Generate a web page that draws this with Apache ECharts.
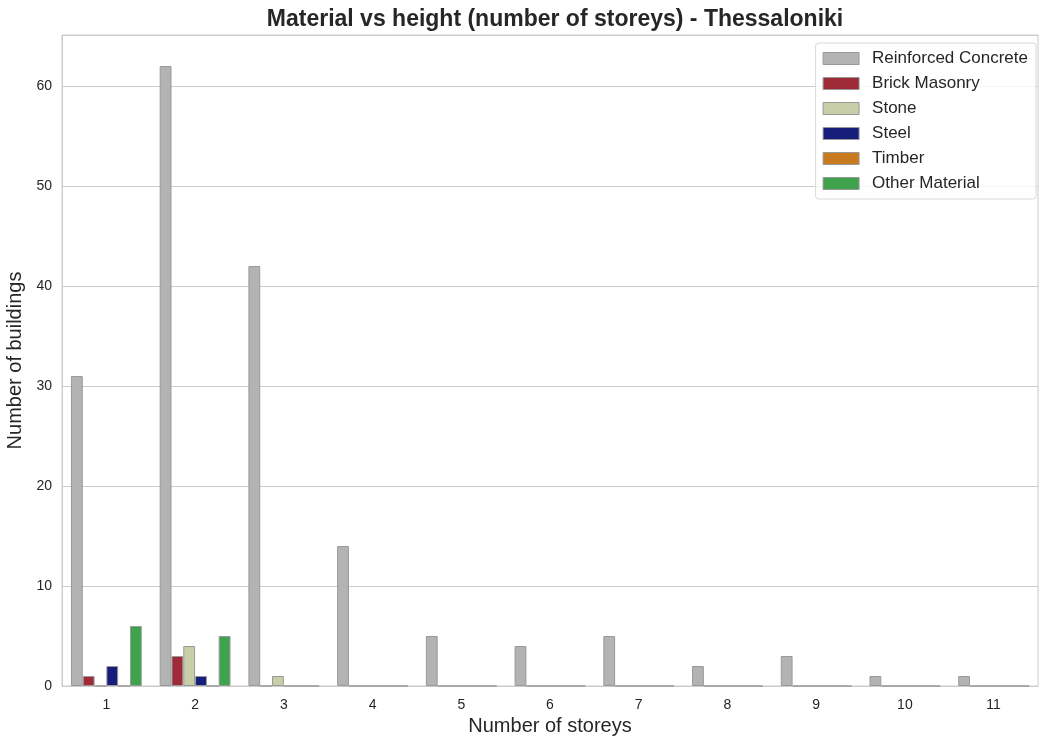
<!DOCTYPE html>
<html><head><meta charset="utf-8">
<script src="https://cdn.jsdelivr.net/npm/echarts@6/dist/echarts.min.js"></script>
<style>html,body{margin:0;padding:0;background:#fff}#c{width:1039px;height:738px}</style>
</head><body><div id="c"></div>
<script>
const categories = ['1','2','3','4','5','6','7','8','9','10','11'];
const reinforcedConcrete = [31, 62, 42, 14, 5, 4, 5, 2, 3, 1, 1];
const brickMasonry = [1, 3, 0, 0, 0, 0, 0, 0, 0, 0, 0];
const stone = [0, 4, 1, 0, 0, 0, 0, 0, 0, 0, 0];
const steel = [2, 1, 0, 0, 0, 0, 0, 0, 0, 0, 0];
const timber = [0, 0, 0, 0, 0, 0, 0, 0, 0, 0, 0];
const otherMaterial = [6, 5, 0, 0, 0, 0, 0, 0, 0, 0, 0];
const yTicks = [0, 10, 20, 30, 40, 50, 60];

const seriesDefs = [
  ['Reinforced Concrete', reinforcedConcrete, '#b3b3b3'],
  ['Brick Masonry', brickMasonry, '#9e2a37'],
  ['Stone', stone, '#c7cea8'],
  ['Steel', steel, '#161d7a'],
  ['Timber', timber, '#c87a1e'],
  ['Other Material', otherMaterial, '#3ea34c']
];
const font = 'Liberation Sans, Arial, sans-serif';
const chart = echarts.init(document.getElementById('c'), null, {renderer:'canvas'});
chart.setOption({
  animation:false,
  backgroundColor:'#fff',
  title:{text:'Material vs height (number of storeys) - Thessaloniki', left:550, textAlign:'center', top:3,
    textStyle:{fontFamily:font, fontSize:23, fontWeight:'bold', color:'#262626'}},
  legend:{orient:'vertical', right:3, top:43, itemWidth:36, itemHeight:12, itemGap:8, icon:'rect',
    padding:[7,8,7,7], borderColor:'#d9d9d9', borderWidth:1, borderRadius:3, backgroundColor:'rgba(255,255,255,0.8)',
    textStyle:{fontFamily:font, fontSize:17, color:'#262626', padding:[0,0,0,8]},
    itemStyle:{borderColor:'#999', borderWidth:1}},
  grid:{left:62, right:1, top:35, bottom:52, show:true, borderColor:'#cccccc', borderWidth:1, outerBoundsMode:'none', containLabel:false},
  xAxis:{type:'category', data:categories, name:'Number of storeys', nameLocation:'middle', nameGap:30,
    nameTextStyle:{fontFamily:font, fontSize:20, color:'#262626'},
    axisLine:{lineStyle:{color:'#cccccc'}}, axisTick:{show:false},
    axisLabel:{fontFamily:font, fontSize:14, color:'#262626', margin:12}},
  yAxis:{type:'value', min:0, max:65.1, interval:10, name:'Number of buildings', nameLocation:'middle', nameGap:36,
    nameTextStyle:{fontFamily:font, fontSize:20, color:'#262626'},
    axisLine:{show:true, lineStyle:{color:'#cccccc'}}, axisTick:{show:false},
    splitLine:{lineStyle:{color:'#cccccc'}},
    axisLabel:{fontFamily:font, fontSize:14, color:'#262626', margin:10,
      formatter:v => yTicks.includes(v) ? String(v) : ''}},
  series: seriesDefs.map(([name, data, color]) => ({
    name, type:'bar', data, barWidth:11.8, barGap:'0%',
    itemStyle:{color, borderColor:'#999999', borderWidth:1}
  }))
});
</script></body></html>
